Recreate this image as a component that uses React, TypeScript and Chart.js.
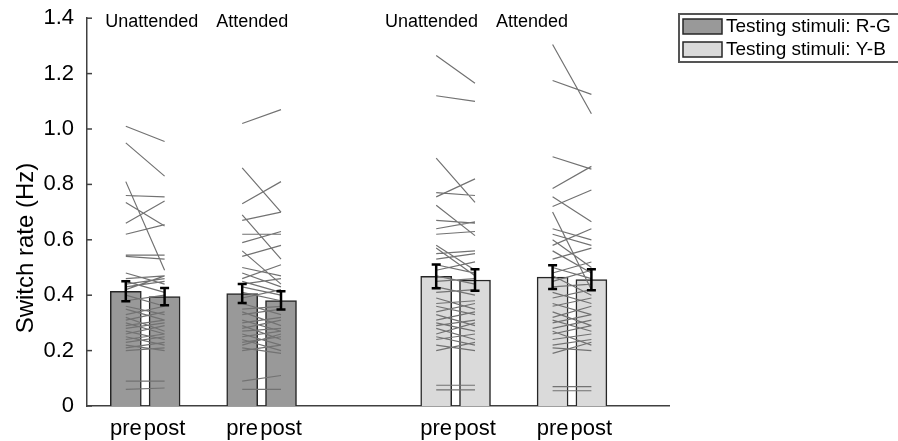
import React, { useEffect, useRef } from "react";
import { Chart, registerables } from "chart.js";

Chart.register(...registerables);

// ---------- data ----------
const xPositions = [0, 1, 3, 4, 8, 9, 11, 12];
const xTickLabels = ["pre", "post", "pre", "post", "pre", "post", "pre", "post"];
const conditionLabels = ["Unattended", "Attended", "Unattended", "Attended"];
const legendLabels = ["Testing stimuli: R-G", "Testing stimuli: Y-B"];
const yTickValues = [0, 0.2, 0.4, 0.6, 0.8, 1.0, 1.2, 1.4];
const yTitle = "Switch rate (Hz)";

const barMeans = [0.414, 0.395, 0.406, 0.381, 0.468, 0.455, 0.465, 0.456];
const barErrors = [0.036, 0.031, 0.034, 0.033, 0.043, 0.039, 0.043, 0.038];

const pre1 = [1.01, 0.95, 0.81, 0.76, 0.735, 0.66, 0.62, 0.545, 0.54, 0.48, 0.46, 0.45, 0.44, 0.43, 0.42, 0.4, 0.38, 0.36, 0.35, 0.33, 0.32, 0.31, 0.3, 0.29, 0.28, 0.27, 0.26, 0.25, 0.24, 0.23, 0.22, 0.21, 0.2, 0.09, 0.06];
const post1 = [0.955, 0.83, 0.49, 0.755, 0.65, 0.74, 0.655, 0.545, 0.53, 0.44, 0.47, 0.41, 0.46, 0.45, 0.47, 0.36, 0.4, 0.33, 0.31, 0.36, 0.27, 0.34, 0.26, 0.31, 0.3, 0.24, 0.29, 0.22, 0.26, 0.25, 0.2, 0.23, 0.21, 0.09, 0.065];

const pre2 = [1.02, 0.86, 0.73, 0.69, 0.67, 0.62, 0.59, 0.56, 0.54, 0.5, 0.48, 0.46, 0.45, 0.44, 0.43, 0.41, 0.39, 0.37, 0.35, 0.34, 0.33, 0.31, 0.3, 0.29, 0.28, 0.27, 0.26, 0.25, 0.24, 0.23, 0.22, 0.21, 0.2, 0.09, 0.06];
const post2 = [1.07, 0.7, 0.81, 0.53, 0.7, 0.62, 0.63, 0.44, 0.58, 0.47, 0.43, 0.51, 0.41, 0.46, 0.4, 0.38, 0.42, 0.33, 0.36, 0.29, 0.35, 0.27, 0.32, 0.24, 0.31, 0.28, 0.22, 0.27, 0.2, 0.25, 0.26, 0.19, 0.22, 0.11, 0.06];

const pre3 = [1.265, 1.12, 0.895, 0.755, 0.77, 0.725, 0.67, 0.64, 0.62, 0.58, 0.57, 0.55, 0.53, 0.51, 0.49, 0.47, 0.45, 0.43, 0.41, 0.39, 0.37, 0.36, 0.34, 0.33, 0.31, 0.3, 0.29, 0.28, 0.26, 0.25, 0.24, 0.22, 0.2, 0.075, 0.058];
const post3 = [1.165, 1.1, 0.735, 0.82, 0.76, 0.615, 0.66, 0.665, 0.63, 0.49, 0.47, 0.56, 0.55, 0.48, 0.52, 0.44, 0.46, 0.4, 0.42, 0.35, 0.38, 0.33, 0.37, 0.29, 0.34, 0.27, 0.31, 0.24, 0.3, 0.22, 0.26, 0.2, 0.23, 0.075, 0.058];

const pre4 = [1.305, 1.175, 0.9, 0.785, 0.755, 0.72, 0.7, 0.64, 0.62, 0.6, 0.58, 0.56, 0.53, 0.5, 0.48, 0.47, 0.45, 0.43, 0.41, 0.39, 0.37, 0.36, 0.34, 0.32, 0.31, 0.3, 0.28, 0.27, 0.26, 0.24, 0.22, 0.21, 0.19, 0.07, 0.055];
const post4 = [1.055, 1.125, 0.855, 0.865, 0.665, 0.78, 0.42, 0.6, 0.58, 0.5, 0.64, 0.48, 0.57, 0.46, 0.52, 0.4, 0.49, 0.44, 0.37, 0.42, 0.33, 0.39, 0.29, 0.36, 0.27, 0.33, 0.31, 0.22, 0.29, 0.26, 0.24, 0.2, 0.23, 0.07, 0.055];

// ---------- layout / style ----------
const FONT = 'Arial, "Liberation Sans", sans-serif';
const conditionLabelX = [-0.53, 2.33, 6.68, 9.54];
const RG_FILL = "#999999";
const YB_FILL = "#dadada";
const BAR_BORDER = "#262626";
const AXIS_COLOR = "#404040";

export default function App() {
  const ref = useRef<HTMLCanvasElement>(null);

  useEffect(() => {
    document.body.style.margin = "0";
    const canvas = ref.current;
    if (!canvas) return;

    const groupsPre = [pre1, pre2, pre3, pre4];
    const groupsPost = [post1, post2, post3, post4];

    const lineDatasets = groupsPre.map((pre, g) => {
      const xp = xPositions[2 * g];
      const xq = xPositions[2 * g + 1];
      const data: any[] = [];
      pre.forEach((v, i) => {
        data.push({ x: xp, y: v }, { x: xq, y: groupsPost[g][i] }, { x: xq, y: null });
      });
      return {
        type: "line",
        data,
        borderColor: "#727272",
        borderWidth: 1.2,
        pointRadius: 0,
        spanGaps: false,
        fill: false,
        order: 1,
      };
    });

    const barRG = {
      type: "bar",
      label: legendLabels[0],
      data: [0, 1, 2, 3].map((i) => ({ x: xPositions[i], y: barMeans[i] })),
      backgroundColor: RG_FILL,
      borderColor: BAR_BORDER,
      borderWidth: 1.5,
      barThickness: 31,
      grouped: false,
      order: 2,
    };
    const barYB = {
      type: "bar",
      label: legendLabels[1],
      data: [4, 5, 6, 7].map((i) => ({ x: xPositions[i], y: barMeans[i] })),
      backgroundColor: YB_FILL,
      borderColor: BAR_BORDER,
      borderWidth: 1.5,
      barThickness: 31,
      grouped: false,
      order: 2,
    };

    const decorations = {
      id: "decorations",
      afterDatasetsDraw(chart: any) {
        const { ctx, scales, chartArea } = chart;
        const x = scales.x;
        const y = scales.y;
        ctx.save();
        // error bars
        ctx.strokeStyle = "#000";
        ctx.lineWidth = 2.5;
        xPositions.forEach((xv, i) => {
          const px = x.getPixelForValue(xv);
          const top = y.getPixelForValue(barMeans[i] + barErrors[i]);
          const bot = y.getPixelForValue(barMeans[i] - barErrors[i]);
          ctx.beginPath();
          ctx.moveTo(px, top);
          ctx.lineTo(px, bot);
          ctx.moveTo(px - 4.5, top);
          ctx.lineTo(px + 4.5, top);
          ctx.moveTo(px - 4.5, bot);
          ctx.lineTo(px + 4.5, bot);
          ctx.stroke();
        });
        // inward y ticks
        ctx.strokeStyle = AXIS_COLOR;
        ctx.lineWidth = 1.5;
        yTickValues.forEach((v) => {
          const py = y.getPixelForValue(v);
          ctx.beginPath();
          ctx.moveTo(chartArea.left, py);
          ctx.lineTo(chartArea.left + 5, py);
          ctx.stroke();
        });
        // condition labels
        ctx.fillStyle = "#000";
        ctx.font = `18px ${FONT}`;
        ctx.textAlign = "left";
        ctx.textBaseline = "alphabetic";
        conditionLabels.forEach((t, i) => {
          ctx.fillText(t, x.getPixelForValue(conditionLabelX[i]), 27);
        });
        // y title
        ctx.save();
        ctx.translate(26, 248);
        ctx.rotate(-Math.PI / 2);
        ctx.textAlign = "center";
        ctx.textBaseline = "middle";
        ctx.font = `24px ${FONT}`;
        ctx.fillText(yTitle, 0, 0);
        ctx.restore();
        // legend
        ctx.fillStyle = "#fff";
        ctx.fillRect(679, 14, 240, 48);
        ctx.strokeStyle = "#555";
        ctx.lineWidth = 2;
        ctx.strokeRect(679, 14, 240, 48);
        const fills = [RG_FILL, YB_FILL];
        const rows = [19, 42];
        ctx.font = `19px ${FONT}`;
        ctx.textBaseline = "middle";
        ctx.textAlign = "left";
        legendLabels.forEach((t, i) => {
          ctx.fillStyle = fills[i];
          ctx.fillRect(683, rows[i], 39, 15);
          ctx.strokeStyle = BAR_BORDER;
          ctx.lineWidth = 1.5;
          ctx.strokeRect(683, rows[i], 39, 15);
          ctx.fillStyle = "#000";
          ctx.fillText(t, 726, rows[i] + 8);
        });
        ctx.restore();
      },
    };

    const chart = new Chart(canvas, {
      data: { datasets: [barRG, barYB, ...lineDatasets] as any },
      options: {
        animation: false,
        responsive: false,
        layout: { padding: { left: 0, right: 229, top: 14, bottom: 0 } },
        plugins: { legend: { display: false }, tooltip: { enabled: false } },
        scales: {
          x: {
            type: "linear",
            min: -1,
            max: 14,
            offset: false,
            grid: { display: false, offset: false },
            border: { display: true, color: AXIS_COLOR, width: 1.5 },
            afterBuildTicks: (scale: any) => {
              scale.ticks = xPositions.map((v) => ({ value: v }));
            },
            afterFit: (scale: any) => {
              scale.height = 35;
            },
            ticks: {
              autoSkip: false,
              maxRotation: 0,
              padding: 2,
              color: "#000",
              font: { family: FONT, size: 22 },
              callback: (value: any) => {
                const idx = xPositions.indexOf(Number(value));
                return idx >= 0 ? xTickLabels[idx] : "";
              },
            },
          },
          y: {
            type: "linear",
            min: 0,
            max: 1.4,
            grid: { display: false },
            border: { display: true, color: AXIS_COLOR, width: 1.5 },
            afterBuildTicks: (scale: any) => {
              scale.ticks = yTickValues.map((v) => ({ value: v }));
            },
            afterFit: (scale: any) => {
              scale.width = 87;
            },
            ticks: {
              padding: 5,
              color: "#000",
              font: { family: FONT, size: 22 },
              callback: (value: any) => (Number(value) === 0 ? "0" : Number(value).toFixed(1)),
            },
          },
        },
      } as any,
      plugins: [decorations],
    });

    return () => chart.destroy();
  }, []);

  return (
    <div style={{ width: 898, height: 441 }}>
      <canvas ref={ref} width={898} height={441} style={{ display: "block" }} />
    </div>
  );
}
